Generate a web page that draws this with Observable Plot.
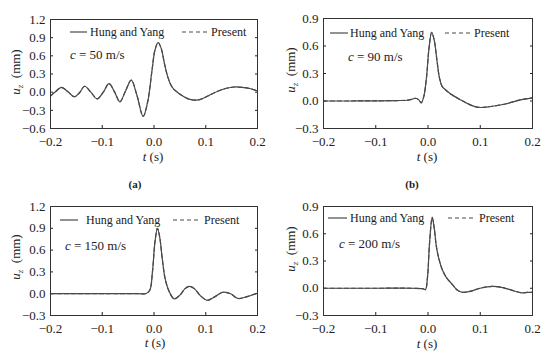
<!DOCTYPE html>
<html><head><meta charset="utf-8">
<script src="https://cdn.jsdelivr.net/npm/d3@7"></script>
<script src="https://cdn.jsdelivr.net/npm/@observablehq/plot@0.6"></script>
<style>
body{margin:0;background:#fff;}
#chart{position:relative;width:550px;height:358px;font-family:"Liberation Serif",serif;overflow:hidden;}
.panel{position:absolute;}
.cap{position:absolute;font:bold 11px "Liberation Serif",serif;color:#222;transform:translate(-50%,-50%);}
</style></head><body><div id="chart"></div><script>
// ---- data ----
const xTicks = [-0.2, -0.1, 0.0, 0.1, 0.2];
const yTicksA = [-0.6, -0.3, 0.0, 0.3, 0.6, 0.9, 1.2];
const yTicksB = [-0.3, 0.0, 0.3, 0.6, 0.9];
const yTicksC = [-0.3, 0.0, 0.3, 0.6, 0.9, 1.2];
const yTicksD = [-0.3, 0.0, 0.3, 0.6, 0.9];
const seriesNames = ["Hung and Yang", "Present"];
const speeds = ["50", "90", "150", "200"];
const captions = ["(a)", "(b)"];

const tA = [-0.2,-0.19,-0.179,-0.166,-0.154,-0.144,-0.134,-0.122,-0.110,-0.098,-0.087,-0.076,-0.066,-0.055,-0.044,-0.033,-0.021,-0.012,-0.004,0.002,0.008,0.014,0.02,0.026,0.032,0.038,0.045,0.055,0.066,0.077,0.09,0.105,0.123,0.14,0.155,0.17,0.185,0.2];
const uA = [-0.065,0.01,0.08,0.005,-0.076,-0.01,0.098,0.0,-0.11,0.0,0.14,0.0,-0.16,0.02,0.20,-0.05,-0.40,-0.15,0.35,0.70,0.82,0.72,0.48,0.27,0.13,0.05,0.0,-0.06,-0.11,-0.13,-0.12,-0.06,0.016,0.065,0.085,0.08,0.06,0.02];

const tB = [-0.2,-0.15,-0.1,-0.06,-0.04,-0.03,-0.024,-0.018,-0.013,-0.008,-0.003,0.002,0.007,0.012,0.017,0.022,0.027,0.034,0.045,0.06,0.08,0.097,0.12,0.15,0.175,0.2];
const uB = [0,0,0.002,0.005,0.008,0.02,0.03,0.015,-0.02,0.05,0.25,0.58,0.75,0.66,0.45,0.25,0.16,0.12,0.07,0.02,-0.04,-0.07,-0.06,-0.03,0.01,0.035];

const tC = [-0.2,-0.1,-0.03,-0.015,-0.008,-0.003,0.002,0.0066,0.011,0.016,0.022,0.03,0.039,0.05,0.06,0.068,0.078,0.09,0.103,0.118,0.133,0.148,0.162,0.18,0.2];
const uC = [0,0,0,0.003,0.05,0.3,0.72,0.90,0.78,0.48,0.19,0.02,-0.07,-0.02,0.07,0.10,0.07,-0.03,-0.09,-0.04,0.02,0.0,-0.065,-0.04,0.01];

const tD = [-0.2,-0.1,-0.03,-0.01,-0.005,-0.001,0.003,0.008,0.012,0.016,0.021,0.027,0.035,0.046,0.056,0.066,0.08,0.1,0.123,0.145,0.165,0.18,0.19,0.2];
const uD = [0,0,0,-0.005,-0.015,0.12,0.5,0.78,0.66,0.46,0.32,0.21,0.12,0.045,-0.02,-0.045,-0.035,0.0,0.02,0.005,-0.03,-0.05,-0.045,-0.045];

// ---- layout ----
const panels = [
  {t:tA,u:uA,ticks:yTicksA,c:speeds[0],left:0,top:0,mt:19,mr:18,mb:51,ml:50,
   leg:{y:32,s:[70,87],tx:90,d:[182,207],px:211},note:[70,59],xlab:[153,161],ylab:[15,72]},
  {t:tB,u:uB,ticks:yTicksB,c:speeds[1],left:275,top:0,mt:18,mr:18,mb:51,ml:48,
   leg:{y:33,s:[55,73],tx:75,d:[170,197],px:199},note:[73,61],xlab:[152,161],ylab:[15,70]},
  {t:tC,u:uC,ticks:yTicksC,c:speeds[2],left:0,top:179,mt:27,mr:18,mb:43,ml:50,
   leg:{y:41,s:[60,78],tx:86,d:[173,200],px:204},note:[65,71],xlab:[155,168],ylab:[15,78]},
  {t:tD,u:uD,ticks:yTicksD,c:speeds[3],left:275,top:179,mt:27,mr:18,mb:43,ml:48,
   leg:{y:39,s:[53,72],tx:75,d:[173,198],px:204},note:[64,69],xlab:[152,169],ylab:[15,70]}
];
const ink = "#333", lineCol = "#4a4a4a";
const chart = document.getElementById("chart");

panels.forEach(p => {
  const data = p.t.map((t, i) => ({t, u: p.u[i]}));
  const svg = Plot.plot({
    width: 275, height: 179,
    marginTop: p.mt, marginRight: p.mr, marginBottom: p.mb, marginLeft: p.ml,
    x: {domain: [-0.2, 0.2]},
    y: {domain: [p.ticks[0], p.ticks[p.ticks.length - 1]]},
    style: {fontFamily: '"Liberation Serif", serif', fontSize: "13px", color: "#222", background: "transparent", overflow: "visible"},
    marks: [
      Plot.axisX({ticks: xTicks, tickFormat: d3.format(".1f"), tickSize: 0, tickPadding: 8, label: null}),
      Plot.axisX({ticks: xTicks, tickSize: -3, tickFormat: () => "", label: null}),
      Plot.axisY({ticks: p.ticks, tickFormat: d3.format(".1f"), tickSize: 0, tickPadding: 5, label: null}),
      Plot.axisY({ticks: p.ticks, tickSize: -3, tickFormat: () => "", label: null}),
      Plot.axisY({anchor: "right", ticks: p.ticks, tickSize: -3, tickFormat: () => "", label: null}),
      Plot.line(data, {x: "t", y: "u", curve: "catmull-rom", stroke: lineCol, strokeWidth: 1.2}),
      Plot.line(data, {x: "t", y: "u", curve: "catmull-rom", stroke: lineCol, strokeWidth: 1.2, strokeDasharray: "4,3"}),
      Plot.frame({stroke: ink, strokeWidth: 1})
    ]
  });
  const wrap = document.createElement("div");
  wrap.className = "panel";
  wrap.style.left = p.left + "px";
  wrap.style.top = p.top + "px";
  wrap.appendChild(svg);
  chart.appendChild(wrap);

  const s = d3.select(svg);
  const g = s.append("g").attr("font-family", '"Liberation Serif", serif').attr("fill", "#222").attr("text-anchor", "start");
  // legend
  g.append("line").attr("x1", p.leg.s[0]).attr("x2", p.leg.s[1]).attr("y1", p.leg.y).attr("y2", p.leg.y)
    .attr("stroke", lineCol).attr("stroke-width", 1.2);
  g.append("text").attr("x", p.leg.tx).attr("y", p.leg.y + 4).attr("font-size", 12).attr("text-anchor", "start").text(seriesNames[0]);
  g.append("line").attr("x1", p.leg.d[0]).attr("x2", p.leg.d[1]).attr("y1", p.leg.y).attr("y2", p.leg.y)
    .attr("stroke", lineCol).attr("stroke-width", 1.2).attr("stroke-dasharray", "4,3");
  g.append("text").attr("x", p.leg.px).attr("y", p.leg.y + 4).attr("font-size", 12).attr("text-anchor", "start").text(seriesNames[1]);
  // annotation
  const n = g.append("text").attr("x", p.note[0]).attr("y", p.note[1]).attr("font-size", 13).attr("text-anchor", "start");
  n.append("tspan").attr("font-style", "italic").text("c");
  n.append("tspan").text(" = " + p.c + " m/s");
  // x label
  const xl = g.append("text").attr("x", p.xlab[0]).attr("y", p.xlab[1]).attr("font-size", 13).attr("text-anchor", "middle");
  xl.append("tspan").attr("font-style", "italic").text("t");
  xl.append("tspan").text(" (s)");
  // y label
  const yl = g.append("text").attr("transform", `translate(${p.ylab[0]},${p.ylab[1]}) rotate(-90)`)
    .attr("font-size", 13).attr("text-anchor", "middle").attr("dy", "0.35em");
  yl.append("tspan").attr("font-style", "italic").text("u");
  yl.append("tspan").attr("font-style", "italic").attr("font-size", 9).attr("dy", 3).text("z");
  yl.append("tspan").attr("dy", -3).text("\u2002(mm)");
});

[[135, 184], [412, 184]].forEach((pos, i) => {
  const d = document.createElement("div");
  d.className = "cap";
  d.style.left = pos[0] + "px";
  d.style.top = pos[1] + "px";
  d.textContent = captions[i];
  chart.appendChild(d);
});
</script></body></html>
